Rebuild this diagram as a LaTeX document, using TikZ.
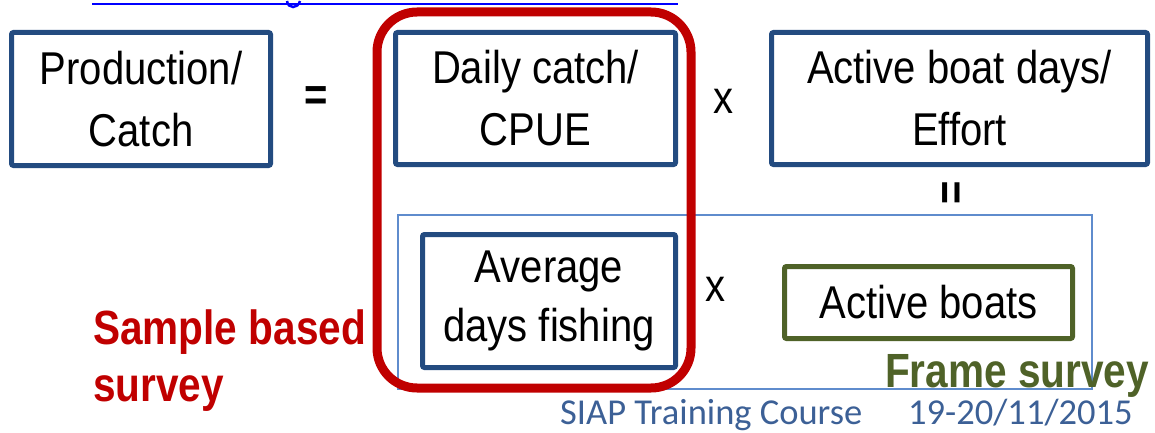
\documentclass[tikz,border=0pt]{standalone}
\usepackage{fontspec}
\setmainfont[FakeStretch=0.87]{Liberation Sans}
\newfontfamily\labfont[FakeStretch=0.845]{Liberation Sans}
\newfontfamily\footfont{Carlito}
\definecolor{boxblue}{RGB}{35,75,128}
\definecolor{sred}{RGB}{192,0,0}
\definecolor{fgreen}{RGB}{79,98,40}
\definecolor{framebl}{RGB}{95,140,205}
\definecolor{footbl}{RGB}{60,96,150}
\definecolor{linkbl}{RGB}{0,0,255}
\begin{document}
\begin{tikzpicture}[x=1pt,y=-1pt,
  termbox/.style={draw=boxblue, line width=5pt, rounded corners=2pt, fill=white,
    align=center, inner sep=0pt, font=\fontsize{46}{62}\selectfont},
  greenbox/.style={termbox, draw=fgreen},
  opsym/.style={inner sep=0pt, font=\fontsize{46}{50}\selectfont},
  surveylab/.style={inner sep=0pt, align=left, font=\labfont\bfseries\fontsize{48}{57}\selectfont},
  footlab/.style={inner sep=0pt, anchor=base west, text=footbl, font=\footfont\fontsize{36.5}{40}\selectfont}]
\useasboundingbox (0,0) rectangle (1155,433);
% cut-off hyperlink underline
\draw[linkbl, line width=2pt] (92,4) -- (678,4);
\draw[linkbl, line width=2.5pt] (287,1) .. controls (288,9) and (298,9) .. (300,1);
% frame survey outline
\node[draw=framebl, line width=1.3pt, minimum width=694pt, minimum height=174pt, inner sep=0pt] (frame) at (745,302) {};
% boxes
\node[termbox, minimum width=259pt, minimum height=133pt] (prod) at (141,99) {Production/\\Catch};
\node[termbox, minimum width=280pt, minimum height=132pt] (daily) at (535.5,98.5) {Daily catch/\\CPUE};
\node[termbox, minimum width=376pt, minimum height=132pt] (effort) at (959.5,98.5) {Active boat days/\\Effort};
\node[termbox, minimum width=253pt, minimum height=133pt, font=\fontsize{46}{59}\selectfont] (avg) at (549,301) {Average\\days fishing};
\node[greenbox, minimum width=288pt, minimum height=72pt] (boats) at (928.5,302.5) {Active boats};
% sample-based group outline
\node[draw=sred, line width=9pt, rounded corners=40pt, minimum width=314pt, minimum height=376pt, inner sep=0pt] (group) at (534,200) {};
% operators
\node[opsym, font=\bfseries\fontsize{46}{50}\selectfont] (eq1) at (316,99) {=};
\node[opsym] (x1) at (723,101) {x};
\node[opsym, font=\bfseries\fontsize{46}{50}\selectfont, rotate=90] (eq2) at (955,193) {=};
\node[opsym] (x2) at (715,289) {x};
% labels
\node[surveylab, text=sred, anchor=west] (sample) at (93,361) {Sample based\\survey};
\node[surveylab, text=fgreen, anchor=base west] (framelab) at (885,387) {Frame survey};
\node[footlab] (course) at (560,424) {SIAP Training Course};
\node[footlab] (date) at (908,424) {19-20/11/2015};
\end{tikzpicture}
\end{document}
